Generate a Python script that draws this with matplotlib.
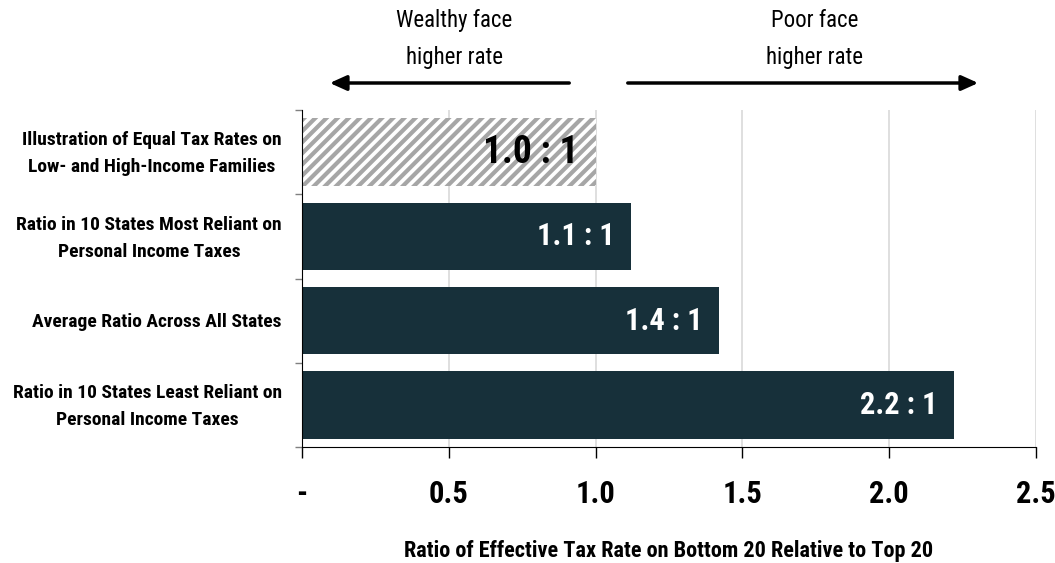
import matplotlib
matplotlib.use("Agg")
import matplotlib.pyplot as plt
from matplotlib import font_manager as fm
import matplotlib.patches as mpatches
import matplotlib.transforms as mtrans
import numpy as np

names = {f.name for f in fm.fontManager.ttflist}
cands = ['Roboto Condensed', 'PT Sans Narrow', 'Fira Sans Condensed', 'Archivo Narrow',
         'Open Sans Condensed', 'Liberation Sans Narrow']
FAM = [c for c in cands if c in names][:1] + ['DejaVu Sans']
plt.rcParams['font.family'] = FAM
plt.rcParams['hatch.color'] = '#a6a6a6'
plt.rcParams['hatch.linewidth'] = 3.0

categories = [
    "Illustration of Equal Tax Rates on\nLow- and High-Income Families",
    "Ratio in 10 States Most Reliant on\nPersonal Income Taxes",
    "Average Ratio Across All States",
    "Ratio in 10 States Least Reliant on\nPersonal Income Taxes",
]
values = [1.0, 1.12, 1.42, 2.22]
value_labels = ["1.0 : 1", "1.1 : 1", "1.4 : 1", "2.2 : 1"]
xticks = [0, 0.5, 1.0, 1.5, 2.0, 2.5]
xtick_labels = ["-", "0.5", "1.0", "1.5", "2.0", "2.5"]

DARK = '#17303a'

fig = plt.figure(figsize=(10.55, 5.63), dpi=100)
ax = fig.add_axes([302/1055, 1-447/563, (1036-302)/1055, (447-110)/563])

y = np.arange(len(categories))
for i, (v, lab) in enumerate(zip(values, value_labels)):
    if i == 0:
        ax.barh(i, v, height=0.8, color='white', hatch='///', edgecolor='#a6a6a6', linewidth=0, zorder=3)
        ax.text(v - 0.06, i, lab, ha='right', va='center', fontsize=27, fontweight='bold', color='black', zorder=4)
    else:
        ax.barh(i, v, height=0.8, color=DARK, zorder=3)
        ax.text(v - 0.055, i, lab, ha='right', va='center', fontsize=22, fontweight='bold', color='white', zorder=4)

ax.set_xlim(0, 2.5)
ax.set_ylim(3.5, -0.5)
ax.set_xticks(xticks)
ax.set_xticklabels(xtick_labels, fontsize=22, fontweight='bold')
ax.tick_params(axis='x', direction='out', length=8, width=1, pad=15, colors='black')
ax.set_yticks(np.arange(-0.5, 4.0, 1.0))
ax.set_yticklabels([])
ax.tick_params(axis='y', which='major', direction='out', length=5, width=1, color='#808080')

# category labels
lab_tr = mtrans.blended_transform_factory(ax.transAxes, ax.transData)
for i, cat in enumerate(categories):
    ax.text(-20/734, i + 0.02, cat, transform=lab_tr, ha='right', va='center', fontsize=14,
            fontweight='bold', multialignment='center', linespacing=1.65, clip_on=False)

ax.grid(axis='x', color='#d9d9d9', linewidth=1.2, zorder=0)
ax.set_axisbelow(True)
for s in ['top', 'right']:
    ax.spines[s].set_visible(False)
ax.spines['left'].set_color('black')
ax.spines['bottom'].set_color('black')
ax.spines['left'].set_zorder(5)

ax.set_xlabel("Ratio of Effective Tax Rate on Bottom 20 Relative to Top 20", fontsize=16, fontweight='bold', labelpad=22)

fig.text(454/1055, 1-39/563, "Wealthy face\nhigher rate", ha='center', va='center', fontsize=16.5, linespacing=1.8)
fig.text(815/1055, 1-39/563, "Poor face\nhigher rate", ha='center', va='center', fontsize=16.5, linespacing=1.8)
fig.add_artist(mpatches.FancyArrowPatch((572/1055, 1-83/563), (327/1055, 1-83/563),
               transform=fig.transFigure, arrowstyle='-|>,head_length=10,head_width=4.5', mutation_scale=1,
               color='black', linewidth=2.5))
fig.add_artist(mpatches.FancyArrowPatch((625/1055, 1-83/563), (981/1055, 1-83/563),
               transform=fig.transFigure, arrowstyle='-|>,head_length=10,head_width=4.5', mutation_scale=1,
               color='black', linewidth=2.5))

fig.savefig('out.png', dpi=100)
